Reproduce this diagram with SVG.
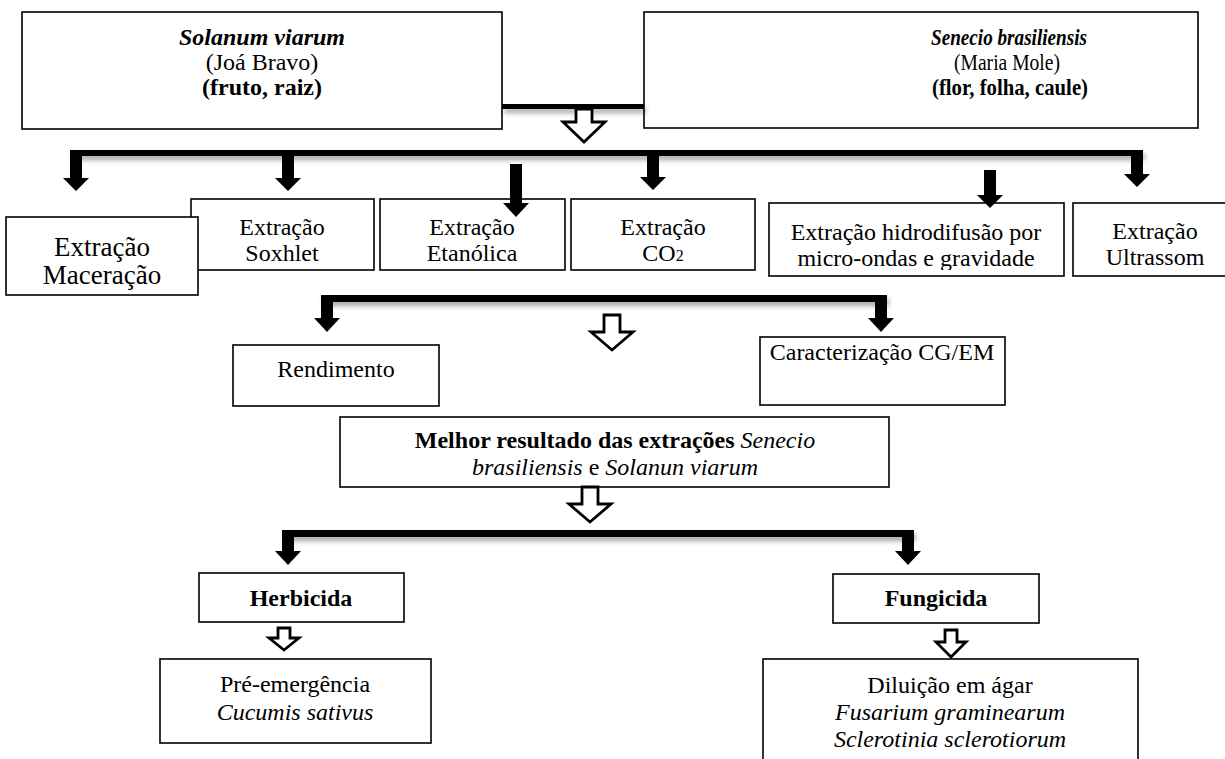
<svg xmlns="http://www.w3.org/2000/svg" width="1225" height="759" viewBox="0 0 1225 759">
<defs>
<style>
.box{fill:#fff;stroke:#000;stroke-width:1.6}
text{font-family:"Liberation Serif","Times New Roman",serif;font-size:24px;fill:#000;text-anchor:middle}
.b{font-weight:bold}
.i{font-style:italic}
.blk{fill:#000}
.hol{fill:#fff;stroke:#000;stroke-width:2.8;stroke-linejoin:miter}
</style>
<filter id="sh" x="-5%" y="-100%" width="110%" height="500%">
<feDropShadow dx="2" dy="4" stdDeviation="2.5" flood-color="#000" flood-opacity="0.35"/>
</filter>
<clipPath id="hclip"><rect x="769" y="203" width="295" height="67"/></clipPath>
</defs>
<rect width="1225" height="759" fill="#fff"/>

<g id="solanum">
<rect class="box" x="22" y="12" width="480" height="117"/>
<text x="262" y="45" class="b i">Solanum viarum</text>
<text x="262" y="70">(Joá Bravo)</text>
<text x="262" y="95" class="b">(fruto, raiz)</text>
</g>
<g id="senecio">
<rect class="box" x="644" y="12" width="554" height="116"/>
<text x="1009" y="45" class="b i" textLength="156" lengthAdjust="spacingAndGlyphs">Senecio brasiliensis</text>
<text x="1007" y="70" textLength="106" lengthAdjust="spacingAndGlyphs">(Maria Mole)</text>
<text x="1010" y="95" class="b" textLength="156" lengthAdjust="spacingAndGlyphs">(flor, folha, caule)</text>
</g>

<g id="soxhlet">
<rect class="box" x="191" y="199" width="183" height="71"/>
<text x="282" y="235">Extração</text>
<text x="282" y="261">Soxhlet</text>
</g>
<g id="maceracao">
<rect class="box" x="6" y="217" width="192" height="78"/>
<text x="102" y="256" style="font-size:27px">Extração</text>
<text x="102" y="284" style="font-size:27px">Maceração</text>
</g>
<g id="etanolica">
<rect class="box" x="380" y="199" width="185" height="71"/>
<text x="472" y="235">Extração</text>
<text x="472" y="261">Etanólica</text>
</g>
<g id="co2">
<rect class="box" x="571" y="199" width="184" height="71"/>
<text x="663" y="235">Extração</text>
<text x="663" y="261">CO<tspan style="font-size:16px">2</tspan></text>
</g>
<g id="hidrodifusao">
<rect class="box" x="769" y="203" width="295" height="73"/>
<text x="916" y="240">Extração hidrodifusão por</text>
<text x="916" y="266" clip-path="url(#hclip)">micro-ondas e gravidade</text>
</g>
<g id="ultrassom">
<rect class="box" x="1073" y="203" width="170" height="73"/>
<text x="1155" y="239">Extração</text>
<text x="1155" y="265">Ultrassom</text>
</g>

<g id="rendimento">
<rect class="box" x="233" y="345" width="206" height="61"/>
<text x="336" y="377">Rendimento</text>
</g>
<g id="caracterizacao">
<rect class="box" x="760" y="337" width="245" height="68"/>
<text x="882" y="360">Caracterização CG/EM</text>
</g>
<g id="melhor">
<rect class="box" x="340" y="417" width="549" height="70"/>
<text x="615" y="448"><tspan class="b">Melhor resultado das extrações</tspan> <tspan class="i">Senecio</tspan></text>
<text x="615" y="475"><tspan class="i">brasiliensis</tspan> e <tspan class="i">Solanun viarum</tspan></text>
</g>

<g id="herbicida">
<rect class="box" x="199" y="573" width="205" height="49"/>
<text x="301" y="606" class="b">Herbicida</text>
</g>
<g id="fungicida">
<rect class="box" x="833" y="574" width="206" height="49"/>
<text x="936" y="606" class="b">Fungicida</text>
</g>
<g id="preemergencia">
<rect class="box" x="160" y="659" width="271" height="84"/>
<text x="295" y="692">Pré-emergência</text>
<text x="295" y="720" class="i">Cucumis sativus</text>
</g>
<g id="diluicao">
<rect class="box" x="763" y="659" width="375" height="112"/>
<text x="950" y="693">Diluição em ágar</text>
<text x="950" y="720" class="i">Fusarium graminearum</text>
<text x="950" y="747" class="i">Sclerotinia sclerotiorum</text>
</g>

<g id="connectors">
<g filter="url(#sh)">
<rect class="blk" x="502" y="104" width="142" height="5"/>
<rect class="blk" x="70" y="150" width="1073" height="6"/>
<rect class="blk" x="321" y="295" width="566" height="7"/>
<rect class="blk" x="282" y="530" width="632" height="7"/>
</g>
<polygon class="blk" points="70,150 82,150 82,178 89,178 76,191 63,178 70,178"/>
<polygon class="blk" points="282,153 294,153 294,178 301,178 288,191 275,178 282,178"/>
<polygon class="blk" points="647,153 659,153 659,177 666,177 653,190 640,177 647,177"/>
<polygon class="blk" points="1131,150 1143,150 1143,174 1150,174 1137,187 1124,174 1131,174"/>
<polygon class="blk" points="510,164 522,164 522,203 529,203 516,217 503,203 510,203"/>
<polygon class="blk" points="984,170 996,170 996,195 1003,195 990,208 977,195 984,195"/>
<polygon class="blk" points="321,295 333,295 333,318 340,318 327,332 314,318 321,318"/>
<polygon class="blk" points="875,295 887,295 887,318 894,318 881,332 868,318 875,318"/>
<polygon class="blk" points="282,530 294,530 294,551 301,551 288,565 275,551 282,551"/>
<polygon class="blk" points="902,530 914,530 914,551 921,551 908,565 895,551 902,551"/>
<polygon class="hol" points="576,109 592,109 592,122 605,122 584,142 563,122 576,122"/>
<polygon class="hol" points="604,315 620,315 620,332 633,332 612,350 591,332 604,332"/>
<polygon class="hol" points="582,487 598,487 598,504 611,504 590,522 569,504 582,504"/>
<polygon class="hol" points="278,628 290,628 290,638 299,638 284,650 269,638 278,638"/>
<polygon class="hol" points="945,630 957,630 957,642 966,642 951,657 936,642 945,642"/>
</g>
</svg>
